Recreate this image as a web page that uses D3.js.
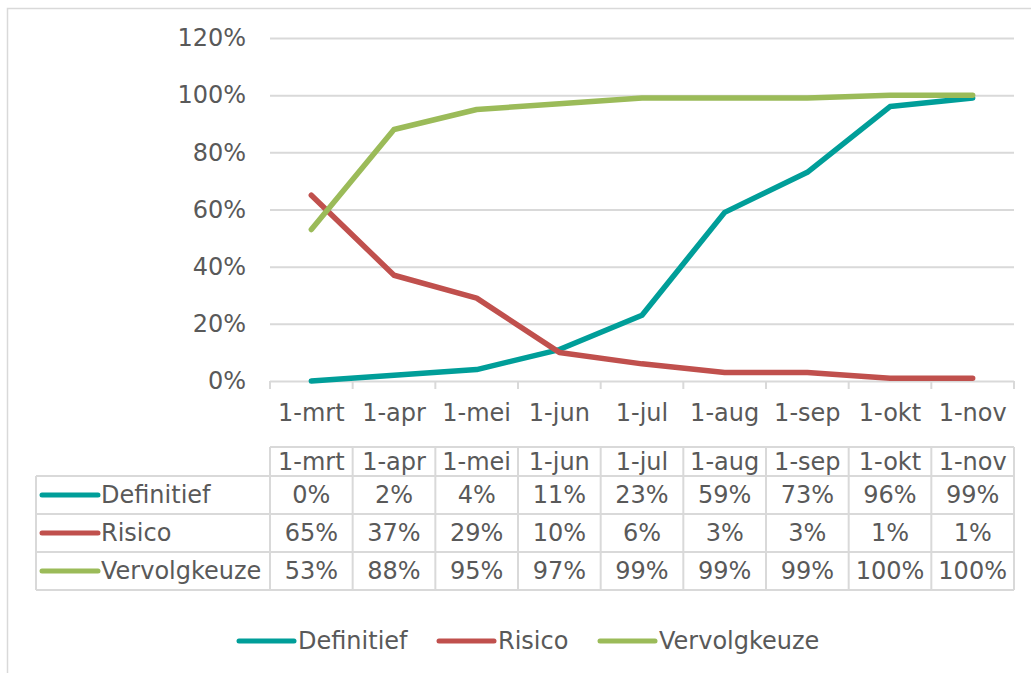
<!DOCTYPE html>
<html>
<head>
<meta charset="utf-8">
<script src="https://cdn.jsdelivr.net/npm/d3@7"></script>
<style>
  body { margin: 0; background: #fff; }
  svg, svg g, svg text { font-family: "DejaVu Sans", Verdana, sans-serif; }
  text { fill: #595959; font-size: 24px; }
</style>
</head>
<body>
<div class="chart-container"></div>
<script>
//! DATA
const categories = ['1-mrt', '1-apr', '1-mei', '1-jun', '1-jul', '1-aug', '1-sep', '1-okt', '1-nov'];
const seriesNames = ['Definitief', 'Risico', 'Vervolgkeuze'];
const definitief = [0.00, 0.02, 0.04, 0.11, 0.23, 0.59, 0.73, 0.96, 0.99];
const risico = [0.65, 0.37, 0.29, 0.10, 0.06, 0.03, 0.03, 0.01, 0.01];
const vervolgkeuze = [0.53, 0.88, 0.95, 0.97, 0.99, 0.99, 0.99, 1.00, 1.00];
const yTicks = [0, 0.2, 0.4, 0.6, 0.8, 1.0, 1.2];

//! CONSTS
const WIDTH = 1031;
const HEIGHT = 673;
const COLORS = ['#009e99', '#c0504d', '#9bbb59'];
const GRID = '#d9d9d9';
const PLOT = { left: 270, right: 1014, top: 38, bottom: 381 };
const TABLE = { labelLeft: 36, headTop: 447, headBottom: 476, rowH: 38 };

const series = seriesNames.map((name, i) => ({
  name,
  color: COLORS[i],
  values: [definitief, risico, vervolgkeuze][i]
}));

//! SVG
const svg = d3.select('.chart-container')
  .append('svg')
  .attr('width', WIDTH)
  .attr('height', HEIGHT);

// chart border
svg.append('rect')
  .attr('x', 7.5).attr('y', 8.5)
  .attr('width', WIDTH + 10).attr('height', HEIGHT + 10)
  .attr('fill', 'none')
  .attr('stroke', GRID)
  .attr('stroke-width', 1.5);

//! SCALES
const x = d3.scaleBand()
  .domain(categories)
  .range([PLOT.left, PLOT.right]);

const y = d3.scaleLinear()
  .domain([0, 1.2])
  .range([PLOT.bottom, PLOT.top]);

// gridlines + y labels
const yAxis = svg.append('g')
  .attr('transform', `translate(${PLOT.left},0)`)
  .call(d3.axisLeft(y)
    .tickValues(yTicks)
    .tickSize(-(PLOT.right - PLOT.left))
    .tickPadding(24)
    .tickFormat(d3.format('.0%')))
  .attr('font-family', null)
  .attr('font-size', null);
yAxis.select('.domain').remove();
yAxis.selectAll('line').attr('stroke', GRID).attr('stroke-width', 2);
yAxis.selectAll('text').attr('fill', '#595959');

// x labels
const xAxis = svg.append('g')
  .attr('transform', `translate(0,${PLOT.bottom})`)
  .call(d3.axisBottom(x).tickSize(0).tickPadding(23))
  .attr('font-family', null)
  .attr('font-size', null);
xAxis.select('.domain').remove();
xAxis.selectAll('text').attr('fill', '#595959');

// tick marks on band boundaries
const bounds = categories.map(c => x(c)).concat([PLOT.right]);
svg.append('g')
  .selectAll('line')
  .data(bounds)
  .enter()
  .append('line')
  .attr('x1', d => d).attr('x2', d => d)
  .attr('y1', PLOT.bottom).attr('y2', PLOT.bottom + 8)
  .attr('stroke', GRID)
  .attr('stroke-width', 2);

//! LINES
const line = d3.line()
  .x((d, i) => x(categories[i]) + x.bandwidth() / 2)
  .y(d => y(d));

svg.append('g')
  .selectAll('path')
  .data(series)
  .enter()
  .append('path')
  .attr('d', d => line(d.values))
  .attr('fill', 'none')
  .attr('stroke', d => d.color)
  .attr('stroke-width', 5.5)
  .attr('stroke-linejoin', 'round')
  .attr('stroke-linecap', 'round');

//! DATA TABLE
const table = svg.append('g');
const rowTop = i => TABLE.headBottom + i * TABLE.rowH;
const tableBottom = rowTop(series.length);

// horizontal rules
table.append('line')
  .attr('x1', PLOT.left).attr('x2', PLOT.right)
  .attr('y1', TABLE.headTop).attr('y2', TABLE.headTop)
  .attr('stroke', GRID).attr('stroke-width', 2);
table.selectAll('.hrule')
  .data(d3.range(series.length + 1))
  .enter()
  .append('line')
  .attr('x1', TABLE.labelLeft).attr('x2', PLOT.right)
  .attr('y1', i => rowTop(i)).attr('y2', i => rowTop(i))
  .attr('stroke', GRID).attr('stroke-width', 2);

// vertical rules
table.selectAll('.vrule')
  .data(bounds)
  .enter()
  .append('line')
  .attr('x1', d => d).attr('x2', d => d)
  .attr('y1', TABLE.headTop).attr('y2', tableBottom)
  .attr('stroke', GRID).attr('stroke-width', 2);
table.append('line')
  .attr('x1', TABLE.labelLeft).attr('x2', TABLE.labelLeft)
  .attr('y1', TABLE.headBottom).attr('y2', tableBottom)
  .attr('stroke', GRID).attr('stroke-width', 2);

// header
table.selectAll('.head')
  .data(categories)
  .enter()
  .append('text')
  .attr('x', d => x(d) + x.bandwidth() / 2)
  .attr('y', (TABLE.headTop + TABLE.headBottom) / 2)
  .attr('dy', '0.35em')
  .attr('text-anchor', 'middle')
  .text(d => d);

// rows
const rows = table.selectAll('.row')
  .data(series)
  .enter()
  .append('g')
  .attr('transform', (d, i) => `translate(0,${rowTop(i) + TABLE.rowH / 2})`);

rows.append('line')
  .attr('x1', 42).attr('x2', 98)
  .attr('y1', 0).attr('y2', 0)
  .attr('stroke', d => d.color)
  .attr('stroke-width', 5)
  .attr('stroke-linecap', 'round');

rows.append('text')
  .attr('x', 101)
  .attr('dy', '0.35em')
  .text(d => d.name);

rows.selectAll('.cell')
  .data(d => d.values)
  .enter()
  .append('text')
  .attr('x', (v, i) => x(categories[i]) + x.bandwidth() / 2)
  .attr('dy', '0.35em')
  .attr('text-anchor', 'middle')
  .text(v => d3.format('.0%')(v));

//! LEGEND
const legendX = [239, 439, 600];
const legend = svg.append('g')
  .selectAll('g')
  .data(series)
  .enter()
  .append('g')
  .attr('transform', (d, i) => `translate(${legendX[i]},641)`);

legend.append('line')
  .attr('x1', 0).attr('x2', 55)
  .attr('stroke', d => d.color)
  .attr('stroke-width', 5)
  .attr('stroke-linecap', 'round');

legend.append('text')
  .attr('x', 59)
  .attr('dy', '0.35em')
  .text(d => d.name);
</script>
</body>
</html>
